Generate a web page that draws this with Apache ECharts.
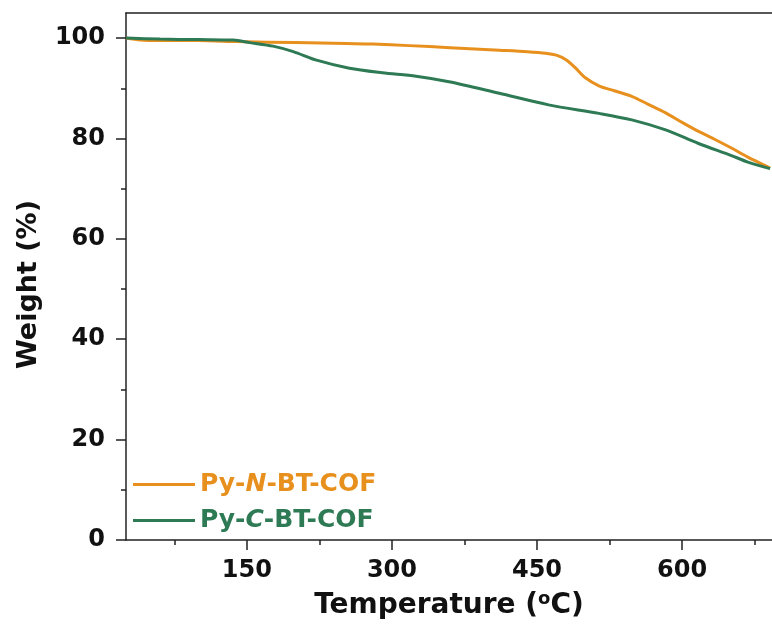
<!DOCTYPE html>
<html>
<head>
<meta charset="utf-8">
<script src="https://cdn.jsdelivr.net/npm/echarts@6/dist/echarts.min.js"></script>
<style>html,body{margin:0;padding:0;background:#fff;}#c{width:772px;height:630px;}</style>
</head>
<body>
<div id="c"></div>
<script>
const seriesNames = ['Py-N-BT-COF', 'Py-C-BT-COF'];
const colors = ['#E8901E', '#2E7A55'];
const tempN = [25, 40, 60, 100, 140, 200, 253, 280, 318, 360, 411, 440, 459, 470, 480, 490, 500, 514, 530, 548, 565, 583, 600, 617, 634, 651, 668, 686, 691];
const weightN = [100, 99.6, 99.5, 99.5, 99.3, 99.1, 98.9, 98.8, 98.5, 98.1, 97.6, 97.3, 97.0, 96.6, 95.7, 94.0, 92.1, 90.5, 89.5, 88.4, 86.8, 85.1, 83.2, 81.4, 79.8, 78.1, 76.3, 74.6, 74.1];
const tempC = [25, 60, 100, 136, 153, 177, 198, 222, 256, 290, 325, 359, 411, 462, 514, 548, 583, 617, 651, 668, 691];
const weightC = [100, 99.8, 99.7, 99.6, 99.1, 98.4, 97.3, 95.6, 94.0, 93.1, 92.4, 91.3, 89.0, 86.7, 85.0, 83.7, 81.7, 79.0, 76.6, 75.3, 74.0];
const xMajor = [150, 300, 450, 600];
const xMinor = [75, 225, 375, 525, 675];
const yMajor = [0, 20, 40, 60, 80, 100];
const yMinor = [10, 30, 50, 70, 90];

const toPairs = (xs, ys) => xs.map((x, i) => [x, ys[i]]);
const FONT = 'DejaVu Sans, Liberation Sans, Arial, sans-serif';
const XMIN = 25, XMAX = 693, YMIN = 0, YMAX = 105;
const axisColor = '#222';
const LF = 25;

const chart = echarts.init(document.getElementById('c'), null, {renderer: 'canvas'});
chart.setOption({
  animation: false,
  backgroundColor: '#fff',
  grid: {left: 126, top: 13, width: 648, height: 527},
  legend: {
    orient: 'vertical', left: 133, top: 472, itemWidth: 62, itemHeight: 3, itemGap: 11,
    icon: 'rect', padding: 0,
    data: [
      {name: seriesNames[0], textStyle: {color: colors[0]}},
      {name: seriesNames[1], textStyle: {color: colors[1]}}
    ],
    formatter: function (name) {
      if (name === seriesNames[0]) return '{a|Py-}{ai|N}{a|-BT-COF}';
      return '{b|Py-}{bi|C}{b|-BT-COF}';
    },
    textStyle: {
      fontFamily: FONT, fontSize: LF, fontWeight: 'bold',
      rich: {
        a: {color: colors[0], fontFamily: FONT, fontSize: LF, fontWeight: 'bold'},
        ai: {color: colors[0], fontFamily: FONT, fontSize: LF, fontWeight: 'bold', fontStyle: 'italic'},
        b: {color: colors[1], fontFamily: FONT, fontSize: LF, fontWeight: 'bold'},
        bi: {color: colors[1], fontFamily: FONT, fontSize: LF, fontWeight: 'bold', fontStyle: 'italic'}
      }
    }
  },
  xAxis: [
    {
      type: 'value', min: XMIN, max: XMAX, position: 'bottom',
      name: 'Temperature ({sup|o}C)', nameLocation: 'middle', nameGap: 50,
      nameTextStyle: {
        fontFamily: FONT, fontSize: 28, fontWeight: 'bold', color: '#111',
        rich: {sup: {fontFamily: FONT, fontSize: 18, fontWeight: 'bold', color: '#111', verticalAlign: 'top', padding: [0, 0, 14, 0]}}
      },
      axisLine: {show: true, onZero: false, lineStyle: {color: axisColor, width: 1.5}},
      axisTick: {show: true, inside: false, length: 10, customValues: xMajor, lineStyle: {color: axisColor, width: 1.5}},
      axisLabel: {customValues: xMajor, margin: 19, fontFamily: FONT, fontSize: 24, fontWeight: 'bold', color: '#111'},
      splitLine: {show: false}
    },
    {
      type: 'value', min: XMIN, max: XMAX, position: 'bottom',
      axisLine: {show: false},
      axisTick: {show: true, inside: false, length: 5, customValues: xMinor, lineStyle: {color: axisColor, width: 1.5}},
      axisLabel: {show: false},
      splitLine: {show: false}
    },
    {
      type: 'value', min: XMIN, max: XMAX, position: 'top',
      axisLine: {show: true, onZero: false, lineStyle: {color: axisColor, width: 1.5}},
      axisTick: {show: false}, axisLabel: {show: false}, splitLine: {show: false}
    }
  ],
  yAxis: [
    {
      type: 'value', min: YMIN, max: YMAX, position: 'left',
      name: 'Weight (%)', nameLocation: 'middle', nameGap: 84, nameRotate: 90,
      nameTextStyle: {fontFamily: FONT, fontSize: 27, fontWeight: 'bold', color: '#111', padding: [0, 16, 0, 0]},
      axisLine: {show: true, onZero: false, lineStyle: {color: axisColor, width: 1.5}},
      axisTick: {show: true, inside: false, length: 10, customValues: yMajor, lineStyle: {color: axisColor, width: 1.5}},
      axisLabel: {customValues: yMajor, margin: 21, fontFamily: FONT, fontSize: 24, fontWeight: 'bold', color: '#111'},
      splitLine: {show: false}
    },
    {
      type: 'value', min: YMIN, max: YMAX, position: 'left',
      axisLine: {show: false},
      axisTick: {show: true, inside: false, length: 5, customValues: yMinor, lineStyle: {color: axisColor, width: 1.5}},
      axisLabel: {show: false},
      splitLine: {show: false}
    }
  ],
  series: [
    {
      name: seriesNames[0], type: 'line', xAxisIndex: 0, yAxisIndex: 0,
      data: toPairs(tempN, weightN), showSymbol: false, smooth: 0.3,
      lineStyle: {color: colors[0], width: 3}, itemStyle: {color: colors[0]}
    },
    {
      name: seriesNames[1], type: 'line', xAxisIndex: 0, yAxisIndex: 0,
      data: toPairs(tempC, weightC), showSymbol: false, smooth: 0.3,
      lineStyle: {color: colors[1], width: 3}, itemStyle: {color: colors[1]}
    }
  ]
});
</script>
</body>
</html>
